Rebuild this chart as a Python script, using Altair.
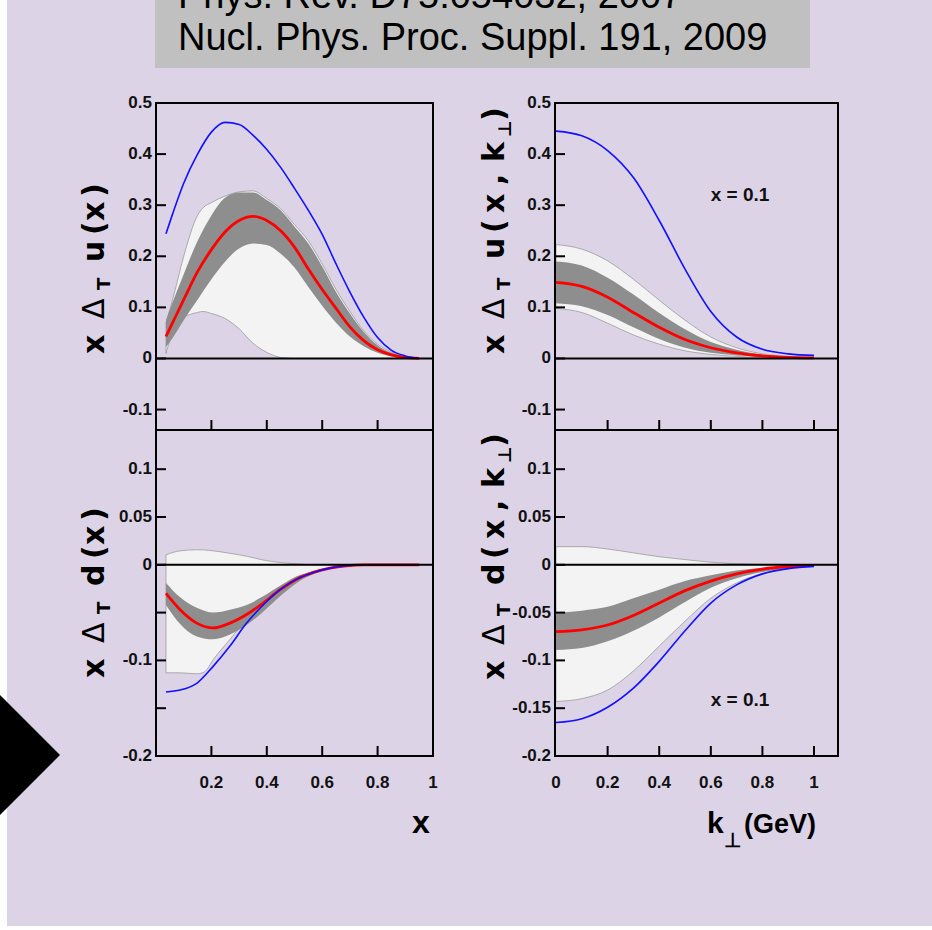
import altair as alt
import pandas as pd

# ---------------- data ----------------
# top-left : x * Delta_T u(x)
tl_x = [0.036, 0.06, 0.1, 0.15, 0.2, 0.25, 0.3, 0.35, 0.4, 0.45, 0.5, 0.55, 0.6, 0.65, 0.7, 0.75, 0.8, 0.85, 0.9, 0.95]
tl_blue = [0.244, 0.283, 0.343, 0.400, 0.443, 0.462, 0.458, 0.437, 0.409, 0.374, 0.333, 0.290, 0.243, 0.185, 0.130, 0.081, 0.041, 0.016, 0.005, 0.0]
tl_red = [0.043, 0.070, 0.115, 0.170, 0.213, 0.248, 0.270, 0.278, 0.270, 0.250, 0.218, 0.175, 0.135, 0.098, 0.062, 0.035, 0.017, 0.007, 0.002, 0.0]
tl_dark_hi = [0.075, 0.110, 0.165, 0.230, 0.280, 0.315, 0.325, 0.325, 0.310, 0.290, 0.258, 0.225, 0.180, 0.130, 0.088, 0.052, 0.026, 0.011, 0.003, 0.0]
tl_dark_lo = [0.022, 0.040, 0.075, 0.115, 0.155, 0.190, 0.215, 0.225, 0.222, 0.205, 0.178, 0.140, 0.103, 0.070, 0.043, 0.024, 0.011, 0.004, 0.001, 0.0]
tl_light_x = [0.036, 0.06, 0.1, 0.15, 0.17, 0.2, 0.25, 0.3, 0.35, 0.4, 0.45, 0.5, 0.55, 0.6, 0.65, 0.7, 0.75, 0.8, 0.85, 0.9, 0.95]
tl_light_hi = [0.07, 0.115, 0.2, 0.28, 0.295, 0.305, 0.318, 0.326, 0.328, 0.313, 0.293, 0.262, 0.23, 0.185, 0.135, 0.092, 0.054, 0.028, 0.012, 0.003, 0.0]
tl_light_lo = [0.01, 0.05, 0.08, 0.09, 0.092, 0.088, 0.078, 0.058, 0.03, 0.012, 0.002, 0, 0, 0, 0, 0, 0, 0, 0, 0, 0]

# top-right : x * Delta_T u(x, k_perp), x = 0.1
tr_k = [0, 0.1, 0.2, 0.3, 0.4, 0.5, 0.6, 0.7, 0.8, 0.9, 1.0]
tr_blue = [0.445, 0.436, 0.407, 0.354, 0.270, 0.175, 0.092, 0.042, 0.018, 0.009, 0.006]
tr_red = [0.149, 0.141, 0.120, 0.090, 0.061, 0.037, 0.021, 0.011, 0.005, 0.002, 0.001]
tr_dark_hi = [0.19, 0.182, 0.158, 0.125, 0.089, 0.057, 0.032, 0.017, 0.008, 0.004, 0.002]
tr_dark_lo = [0.108, 0.102, 0.085, 0.061, 0.038, 0.021, 0.011, 0.006, 0.003, 0.001, 0.001]
tr_light_hi = [0.223, 0.214, 0.191, 0.155, 0.114, 0.075, 0.042, 0.021, 0.009, 0.004, 0.002]
tr_light_lo = [0.098, 0.090, 0.069, 0.046, 0.028, 0.015, 0.008, 0.004, 0.002, 0.001, 0.0]

# bottom-left : x * Delta_T d(x)
bl_x = [0.036, 0.087, 0.147, 0.207, 0.267, 0.327, 0.387, 0.448, 0.508, 0.568, 0.628, 0.688, 0.75, 0.85, 0.95]
bl_blue = [-0.133, -0.131, -0.124, -0.106, -0.085, -0.061, -0.042, -0.026, -0.015, -0.008, -0.0035, -0.001, 0.0, 0.0, 0.0]
bl_red = [-0.030, -0.047, -0.061, -0.066, -0.061, -0.052, -0.040, -0.026, -0.015, -0.008, -0.0035, -0.001, 0.0, 0.0, 0.0]
bl_dark_hi = [-0.019, -0.034, -0.045, -0.050, -0.047, -0.042, -0.033, -0.022, -0.012, -0.007, -0.003, -0.001, 0.0, 0.0, 0.0]
bl_dark_lo = [-0.042, -0.062, -0.075, -0.078, -0.073, -0.063, -0.049, -0.033, -0.019, -0.010, -0.0045, -0.0017, -0.0005, 0.0, 0.0]
bl_light_x = [0.036, 0.087, 0.147, 0.175, 0.207, 0.267, 0.327, 0.387, 0.448, 0.508, 0.568, 0.628, 0.688, 0.75, 0.85]
bl_light_hi = [0.0105, 0.0146, 0.0157, 0.0155, 0.0146, 0.012, 0.009, 0.005, 0.0024, 0.001, 0.0, 0.0, 0.0, 0.0, 0.0]
bl_light_lo = [-0.113, -0.113, -0.114, -0.112, -0.099, -0.078, -0.057, -0.040, -0.024, -0.014, -0.007, -0.003, -0.001, 0.0, 0.0]

# bottom-right : x * Delta_T d(x, k_perp), x = 0.1
br_k = [0, 0.1, 0.2, 0.3, 0.4, 0.5, 0.6, 0.7, 0.8, 0.9, 1.0]
br_blue = [-0.165, -0.161, -0.149, -0.129, -0.101, -0.069, -0.040, -0.021, -0.0095, -0.004, -0.0017]
br_red = [-0.070, -0.068, -0.063, -0.053, -0.040, -0.027, -0.017, -0.0095, -0.0045, -0.0018, -0.0007]
br_dark_hi = [-0.050, -0.048, -0.044, -0.035, -0.026, -0.017, -0.011, -0.006, -0.003, -0.0012, -0.0004]
br_dark_lo = [-0.089, -0.087, -0.080, -0.069, -0.055, -0.039, -0.024, -0.014, -0.0075, -0.0035, -0.0017]
br_light_hi = [0.019, 0.019, 0.0165, 0.0125, 0.0085, 0.0055, 0.0027, 0.0012, 0.0004, 0.0, 0.0]
br_light_lo = [-0.143, -0.140, -0.131, -0.111, -0.085, -0.059, -0.035, -0.019, -0.009, -0.004, -0.0017]

# ticks and labels
u_yticks = [0.5, 0.4, 0.3, 0.2, 0.1, 0.0, -0.1]
u_ylabels = ["0.5", "0.4", "0.3", "0.2", "0.1", "0", "-0.1"]
d_yticks = [0.1, 0.05, 0.0, -0.05, -0.1, -0.15, -0.2]
dl_ylabels = ["0.1", "0.05", "0", "", "-0.1", "", "-0.2"]
dr_ylabels = ["0.1", "0.05", "0", "-0.05", "-0.1", "-0.15", "-0.2"]
left_xticks = [0.2, 0.4, 0.6, 0.8]
left_xlab_v = [0.2, 0.4, 0.6, 0.8, 1.0]
left_xlab_t = ["0.2", "0.4", "0.6", "0.8", "1"]
right_xticks = [0.2, 0.4, 0.6, 0.8, 1.0]
right_xlab_v = [0.0, 0.2, 0.4, 0.6, 0.8, 1.0]
right_xlab_t = ["0", "0.2", "0.4", "0.6", "0.8", "1"]

header_1 = "Phys. Rev. D75:054032, 2007"
header_2 = "Nucl. Phys. Proc. Suppl. 191, 2009"
note_text = "x = 0.1"

# ---------------- styling / layout ----------------
LAV = "#ddd3e6"
TICKFONT = "Liberation Sans, Arial"
TITLEFONT = "DejaVu Sans"

LX = [156, 433]
RX = [555, 838]
TY = [430, 103]
BY = [756, 430]
L_XDOM = [0.0, 1.0]
R_XDOM = [-0.004, 1.093]
U_YDOM = [-0.14, 0.5]
D_YDOM = [-0.2, 0.141]

one = pd.DataFrame({"a": [0]})


def panel(xd, xr, yd, yr, lx, llo, lhi, cx, dlo, dhi, red, blue,
          yt, ytl, xt, xlv=None, xlt=None, note_y=None):
    xs = alt.Scale(domain=xd, range=xr, nice=False, zero=False)
    ys = alt.Scale(domain=yd, range=yr, nice=False, zero=False)

    def X(f):
        return alt.X(f, type="quantitative", scale=xs, axis=None)

    def Y(f):
        return alt.Y(f, type="quantitative", scale=ys, axis=None)

    layers = []
    layers.append(alt.Chart(pd.DataFrame({"x": lx, "lo": llo, "hi": lhi})).mark_area(
        fill="#f3f3f3", stroke="#9a9a9a", strokeWidth=0.8, interpolate="monotone"
    ).encode(x=X("x"), y=Y("lo"), y2=alt.Y2("hi")))
    layers.append(alt.Chart(pd.DataFrame({"x": cx, "lo": dlo, "hi": dhi})).mark_area(
        fill="#8e8e8e", interpolate="monotone"
    ).encode(x=X("x"), y=Y("lo"), y2=alt.Y2("hi")))
    layers.append(alt.Chart(pd.DataFrame({"x": cx, "y": red})).mark_line(
        color="#ff0000", strokeWidth=2.8, interpolate="monotone"
    ).encode(x=X("x"), y=Y("y")))
    layers.append(alt.Chart(pd.DataFrame({"x": cx, "y": blue})).mark_line(
        color="#1010ff", strokeWidth=1.6, interpolate="monotone"
    ).encode(x=X("x"), y=Y("y")))
    # zero line
    layers.append(alt.Chart(pd.DataFrame({"v": [0.0]})).mark_rule(
        color="black", strokeWidth=2
    ).encode(y=Y("v"), x=alt.value(xr[0]), x2=alt.value(xr[1])))
    # frame
    layers.append(alt.Chart(pd.DataFrame({"x0": [xd[0]], "x1": [xd[1]], "y0": [yd[0]], "y1": [yd[1]]})).mark_rect(
        fillOpacity=0, stroke="black", strokeWidth=2
    ).encode(x=X("x0"), x2=alt.X2("x1"), y=Y("y0"), y2=alt.Y2("y1")))
    # y ticks + labels
    layers.append(alt.Chart(pd.DataFrame({"v": yt})).mark_rule(
        color="black", strokeWidth=2
    ).encode(y=Y("v"), x=alt.value(xr[0]), x2=alt.value(xr[0] + 10)))
    layers.append(alt.Chart(pd.DataFrame({"v": yt, "t": ytl})).mark_text(
        align="right", baseline="middle", font=TICKFONT, fontSize=17, fontWeight="bold", color="#111"
    ).encode(y=Y("v"), x=alt.value(xr[0] - 4), text="t:N"))
    # x ticks
    layers.append(alt.Chart(pd.DataFrame({"v": xt})).mark_rule(
        color="black", strokeWidth=2
    ).encode(x=X("v"), y=alt.value(yr[0]), y2=alt.value(yr[0] - 10)))
    if xlv is not None:
        layers.append(alt.Chart(pd.DataFrame({"v": xlv, "t": xlt})).mark_text(
            align="center", baseline="middle", font=TICKFONT, fontSize=17, fontWeight="bold", color="#111"
        ).encode(x=X("v"), y=alt.value(783), text="t:N"))
    if note_y is not None:
        layers.append(alt.Chart(one).mark_text(
            align="center", baseline="middle", font=TICKFONT, fontSize=19, fontWeight="bold", color="#111"
        ).encode(x=alt.value(740), y=alt.value(note_y), text=alt.value(note_text)))
    return alt.layer(*layers)


p_tl = panel(L_XDOM, LX, U_YDOM, TY, tl_light_x, tl_light_lo, tl_light_hi, tl_x, tl_dark_lo, tl_dark_hi,
             tl_red, tl_blue, u_yticks, u_ylabels, left_xticks)
p_tr = panel(R_XDOM, RX, U_YDOM, TY, tr_k, tr_light_lo, tr_light_hi, tr_k, tr_dark_lo, tr_dark_hi,
             tr_red, tr_blue, u_yticks, u_ylabels, right_xticks, note_y=195)
p_bl = panel(L_XDOM, LX, D_YDOM, BY, bl_light_x, bl_light_lo, bl_light_hi, bl_x, bl_dark_lo, bl_dark_hi,
             bl_red, bl_blue, d_yticks, dl_ylabels, left_xticks, left_xlab_v, left_xlab_t)
p_br = panel(R_XDOM, RX, D_YDOM, BY, br_k, br_light_lo, br_light_hi, br_k, br_dark_lo, br_dark_hi,
             br_red, br_blue, d_yticks, dr_ylabels, right_xticks, right_xlab_v, right_xlab_t, note_y=700)


def txt(s, x, y, size, align="left", angle=0, weight="bold", font=TITLEFONT, baseline="alphabetic"):
    kw = dict(align=align, baseline=baseline, fontSize=size, fontWeight=weight, font=font, color="black")
    if angle:
        kw["angle"] = angle
    return alt.Chart(one).mark_text(**kw).encode(
        x=alt.value(x), y=alt.value(y), text=alt.value(s))


bg = alt.Chart(one).mark_rect(color=LAV).encode(
    x=alt.value(7), x2=alt.value(932), y=alt.value(0), y2=alt.value(926))
gray = alt.Chart(one).mark_rect(color="#c0c0c0").encode(
    x=alt.value(155), x2=alt.value(810), y=alt.value(0), y2=alt.value(68))
tri = alt.Chart(one).mark_point(
    shape="M0,-1L1,0L0,1Z", size=14400, filled=True, color="black", opacity=1, strokeWidth=0
).encode(x=alt.value(0), y=alt.value(755))

decor = [
    bg, gray, tri,
    txt(header_1, 178, 8, 38, weight="normal", font="Liberation Sans, Arial"),
    txt(header_2, 178, 50, 38, weight="normal", font="Liberation Sans, Arial"),
]

# rotated y titles, glyph by glyph (subscripts shifted toward +x)
TS = 30
SS = 18
u_left = [("x", 354, TS, 0, "bold"), ("\u0394", 319, TS, 0, "normal"), ("T", 290, SS, 6, "bold"),
          ("u", 262, TS, 0, "bold"), ("(", 235, TS, 0, "bold"), ("x", 221, TS, 0, "bold"), (")", 197, TS, 0, "bold")]
u_right = [("x", 354, TS, 0, "bold"), ("\u0394", 319, TS, 0, "normal"), ("T", 290, SS, 6, "bold"),
           ("u", 259, TS, 0, "bold"), ("(", 233, TS, 0, "bold"), ("x", 213, TS, 0, "bold"), (",", 185, TS, 0, "bold"),
           ("k", 162, TS, 0, "bold"), ("\u22a5", 137, SS, 7, "bold"), (")", 121, TS, 0, "bold")]

titles = []
for bx, off, glyphs, letter in [(104, 0, u_left, "u"), (504, 0, u_right, "u"),
                                (104, 324, u_left, "d"), (504, 326, u_right, "d")]:
    for ch, yy, size, dx, wt in glyphs:
        c = letter if ch == "u" else ch
        titles.append(txt(c, bx + dx, yy + off, size, angle=270, weight=wt))

# x titles
titles.append(txt("x", 421, 833, 32, align="center", font=TICKFONT))
titles.append(txt("k", 707, 833, 30, font=TICKFONT))
titles.append(txt("\u22a5", 724, 847, 20, font=TICKFONT))
titles.append(txt("(GeV)", 744, 833, 27, font=TICKFONT))

chart = alt.layer(*decor, p_tl, p_tr, p_bl, p_br, *titles).resolve_scale(
    x="independent", y="independent"
).properties(
    width=932, height=930, autosize=alt.AutoSizeParams(type="none"), padding=0, background="white"
).configure_view(stroke=None)

chart.save("out.html", embed_options={"renderer": "svg", "actions": False})
